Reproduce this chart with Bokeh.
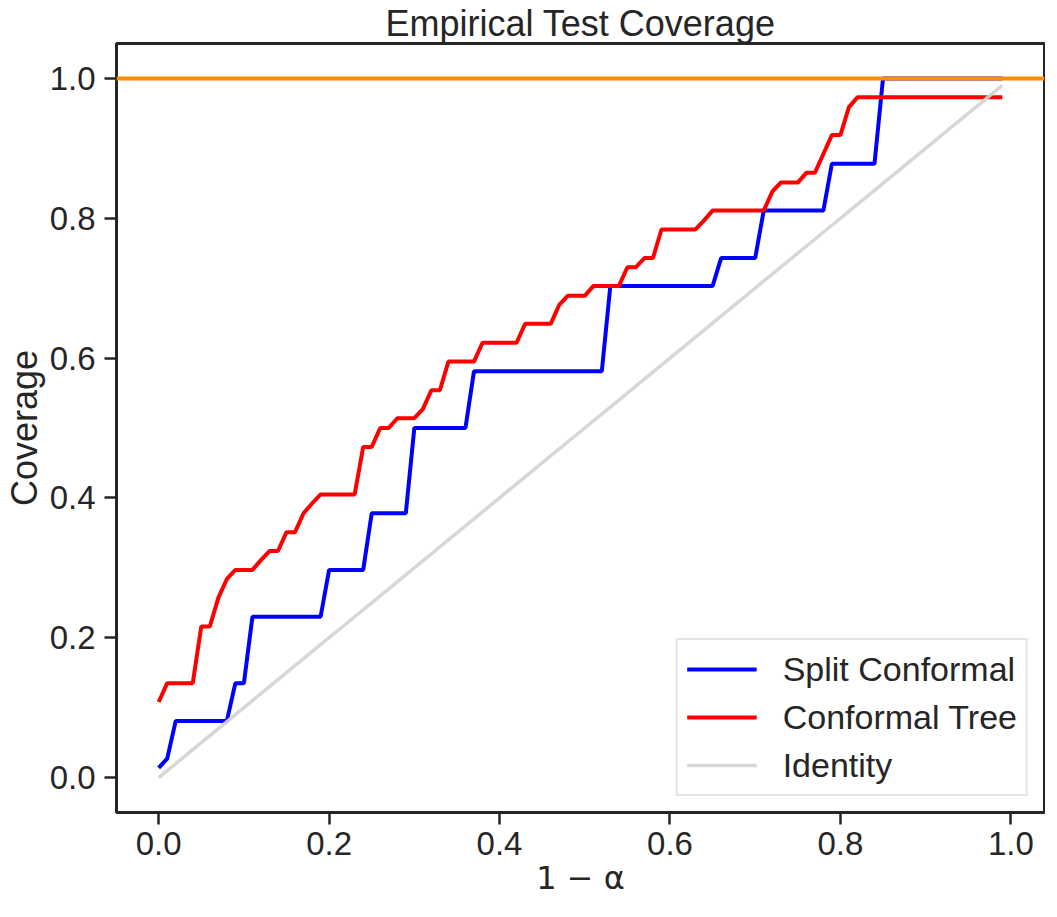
from bokeh.plotting import figure
from bokeh.models import Range1d, FixedTicker, PrintfTickFormatter, Legend, LegendItem, Span
from bokeh.embed import file_html
from bokeh.resources import INLINE

# 1 - alpha grid
alpha_levels = [
    0.00, 0.01, 0.02, 0.03, 0.04, 0.05, 0.06, 0.07, 0.08, 0.09,
    0.10, 0.11, 0.12, 0.13, 0.14, 0.15, 0.16, 0.17, 0.18, 0.19,
    0.20, 0.21, 0.22, 0.23, 0.24, 0.25, 0.26, 0.27, 0.28, 0.29,
    0.30, 0.31, 0.32, 0.33, 0.34, 0.35, 0.36, 0.37, 0.38, 0.39,
    0.40, 0.41, 0.42, 0.43, 0.44, 0.45, 0.46, 0.47, 0.48, 0.49,
    0.50, 0.51, 0.52, 0.53, 0.54, 0.55, 0.56, 0.57, 0.58, 0.59,
    0.60, 0.61, 0.62, 0.63, 0.64, 0.65, 0.66, 0.67, 0.68, 0.69,
    0.70, 0.71, 0.72, 0.73, 0.74, 0.75, 0.76, 0.77, 0.78, 0.79,
    0.80, 0.81, 0.82, 0.83, 0.84, 0.85, 0.86, 0.87, 0.88, 0.89,
    0.90, 0.91, 0.92, 0.93, 0.94, 0.95, 0.96, 0.97, 0.98, 0.99,
]

split_conformal = [
    0.014, 0.027, 0.081, 0.081, 0.081, 0.081, 0.081, 0.081, 0.081, 0.135,
    0.135, 0.230, 0.230, 0.230, 0.230, 0.230, 0.230, 0.230, 0.230, 0.230,
    0.297, 0.297, 0.297, 0.297, 0.297, 0.378, 0.378, 0.378, 0.378, 0.378,
    0.500, 0.500, 0.500, 0.500, 0.500, 0.500, 0.500, 0.581, 0.581, 0.581,
    0.581, 0.581, 0.581, 0.581, 0.581, 0.581, 0.581, 0.581, 0.581, 0.581,
    0.581, 0.581, 0.581, 0.703, 0.703, 0.703, 0.703, 0.703, 0.703, 0.703,
    0.703, 0.703, 0.703, 0.703, 0.703, 0.703, 0.743, 0.743, 0.743, 0.743,
    0.743, 0.811, 0.811, 0.811, 0.811, 0.811, 0.811, 0.811, 0.811, 0.878,
    0.878, 0.878, 0.878, 0.878, 0.878, 1.000, 1.000, 1.000, 1.000, 1.000,
    1.000, 1.000, 1.000, 1.000, 1.000, 1.000, 1.000, 1.000, 1.000, 1.000,
]

conformal_tree = [
    0.108, 0.135, 0.135, 0.135, 0.135, 0.216, 0.216, 0.257, 0.284, 0.297,
    0.297, 0.297, 0.311, 0.324, 0.324, 0.351, 0.351, 0.378, 0.392, 0.405,
    0.405, 0.405, 0.405, 0.405, 0.473, 0.473, 0.500, 0.500, 0.514, 0.514,
    0.514, 0.527, 0.554, 0.554, 0.595, 0.595, 0.595, 0.595, 0.622, 0.622,
    0.622, 0.622, 0.622, 0.649, 0.649, 0.649, 0.649, 0.676, 0.689, 0.689,
    0.689, 0.703, 0.703, 0.703, 0.703, 0.730, 0.730, 0.743, 0.743, 0.784,
    0.784, 0.784, 0.784, 0.784, 0.797, 0.811, 0.811, 0.811, 0.811, 0.811,
    0.811, 0.811, 0.838, 0.851, 0.851, 0.851, 0.865, 0.865, 0.892, 0.919,
    0.919, 0.959, 0.973, 0.973, 0.973, 0.973, 0.973, 0.973, 0.973, 0.973,
    0.973, 0.973, 0.973, 0.973, 0.973, 0.973, 0.973, 0.973, 0.973, 0.973,
]

target_level = 1.0
tick_values = [0.0, 0.2, 0.4, 0.6, 0.8, 1.0]

TEXT = "#262626"
FONT = "Liberation Sans"

p = figure(
    width=1045, height=908,
    output_backend="svg", toolbar_location=None,
    x_range=Range1d(-0.0495, 1.0395), y_range=Range1d(-0.05, 1.05),
    min_border_left=111, min_border_right=1, min_border_top=37, min_border_bottom=96,
    title="Empirical Test Coverage",
)
p.background_fill_color = "white"
p.border_fill_color = "white"
p.grid.visible = False
p.outline_line_color = TEXT
p.outline_line_width = 3

p.title.align = "center"
p.title.text_font = FONT
p.title.text_font_size = "36px"
p.title.text_font_style = "normal"
p.title.text_color = TEXT
p.title.standoff = 0
p.title.offset = 0

for ax in (p.xaxis[0], p.yaxis[0]):
    ax.ticker = FixedTicker(ticks=tick_values)
    ax.formatter = PrintfTickFormatter(format="%.1f")
    ax.axis_line_color = None
    ax.major_tick_line_color = TEXT
    ax.major_tick_line_width = 2.5
    ax.major_tick_out = 12
    ax.major_tick_in = 0
    ax.minor_tick_line_color = None
    ax.major_label_text_font = FONT
    ax.major_label_text_font_size = "33px"
    ax.major_label_text_color = TEXT
    ax.axis_label_text_color = TEXT
    ax.axis_label_text_font_style = "normal"

p.xaxis[0].axis_label = "1 − α"
p.xaxis[0].axis_label_text_font = "DejaVu Sans"
p.xaxis[0].axis_label_text_font_size = "32px"
p.xaxis[0].major_label_standoff = 7
p.xaxis[0].axis_label_standoff = 1

p.yaxis[0].axis_label = "Coverage"
p.yaxis[0].axis_label_text_font = FONT
p.yaxis[0].axis_label_text_font_size = "36px"
p.yaxis[0].major_label_standoff = 9
p.yaxis[0].axis_label_standoff = 2

p.add_layout(Span(location=target_level, dimension="width",
                  line_color="#ff8c00", line_width=4), "center")

r_split = p.line(alpha_levels, split_conformal, line_color="#0000ff", line_width=4)
r_tree = p.line(alpha_levels, conformal_tree, line_color="#ff0000", line_width=4)
r_id = p.line(alpha_levels, alpha_levels, line_color="#d3d3d3", line_width=3.5, line_alpha=0.9)

legend = Legend(
    items=[
        LegendItem(label="Split Conformal", renderers=[r_split]),
        LegendItem(label="Conformal Tree", renderers=[r_tree]),
        LegendItem(label="Identity", renderers=[r_id]),
    ],
    location="bottom_right",
    label_text_font=FONT,
    label_text_font_size="34px",
    label_text_color=TEXT,
    glyph_width=70,
    glyph_height=40,
    label_height=40,
    label_standoff=26,
    spacing=8,
    padding=9,
    margin=16,
    border_line_color="#cccccc",
    border_line_width=2.5,
    background_fill_color="white",
    background_fill_alpha=0.8,
)
p.add_layout(legend)

open("out.html", "w").write(file_html(p, INLINE))
